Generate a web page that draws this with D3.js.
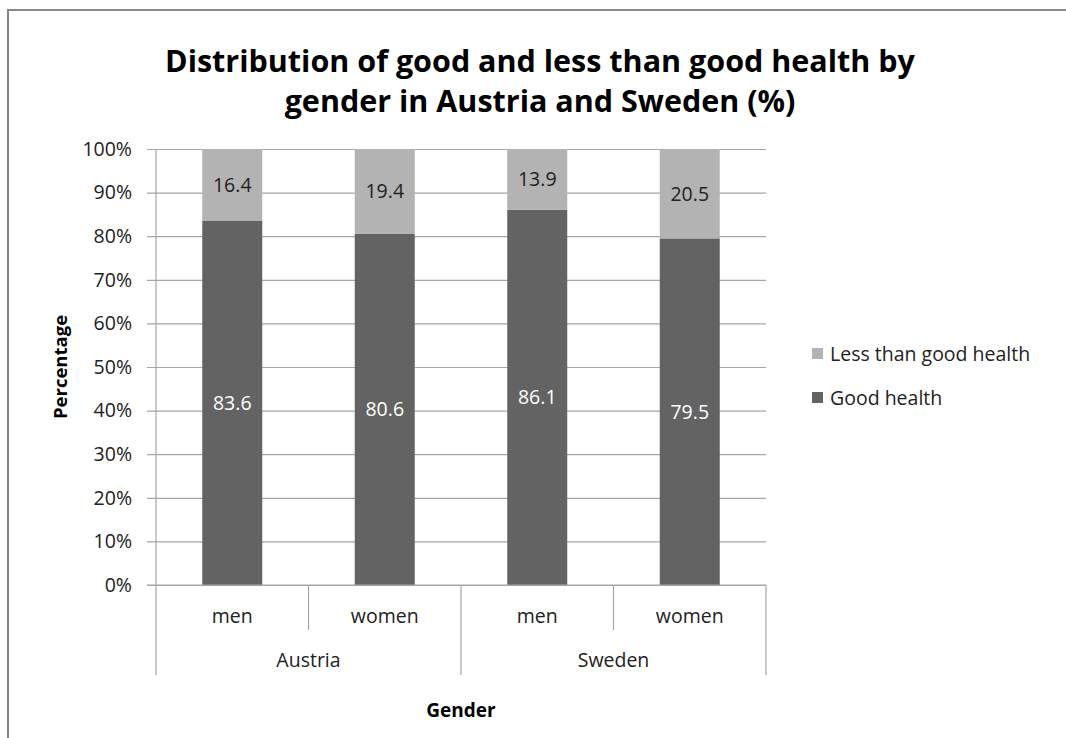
<!DOCTYPE html>
<html>
<head>
<meta charset="utf-8">
<script src="https://cdn.jsdelivr.net/npm/d3@7"></script>
<style>
  html, body { margin: 0; padding: 0; background: #fff; }
  svg { display: block; font-family: "Open Sans", "Noto Sans", sans-serif; }
</style>
</head>
<body>
<svg id="chart" width="1066" height="738"></svg>
<script>
// Categories (country / gender) and the two stacked series, in percent
const countries = ["Austria", "Sweden"];
const genders = ["men", "women"];
const categories = ["Austria|men", "Austria|women", "Sweden|men", "Sweden|women"];
const goodHealth = [83.6, 80.6, 86.1, 79.5];
const lessThanGood = [16.4, 19.4, 13.9, 20.5];
const yTicks = [0, 10, 20, 30, 40, 50, 60, 70, 80, 90, 100];
const seriesNames = ["Less than good health", "Good health"];

const svg = d3.select("#chart");

const plot = { left: 156, right: 766, top: 149, bottom: 585 };
const colors = { good: "#636363", less: "#b3b3b3", grid: "#a6a6a6" };
const labelSize = 19.5;

// Chart border (top and left edges visible)
svg.append("path")
  .attr("d", "M8,738 L8,10 L1066,10")
  .attr("fill", "none")
  .attr("stroke", "#888")
  .attr("stroke-width", 2);

// Title
const title = svg.append("text")
  .attr("text-anchor", "middle")
  .attr("font-weight", "bold")
  .attr("font-size", 30.5)
  .attr("fill", "#000");
title.append("tspan").attr("x", 540).attr("y", 72).text("Distribution of good and less than good health by");
title.append("tspan").attr("x", 540).attr("y", 112).text("gender in Austria and Sweden (%)");

const x = d3.scaleBand().domain(categories).range([plot.left, plot.right]).paddingInner(0).paddingOuter(0);
const y = d3.scaleLinear().domain([0, 100]).range([plot.bottom, plot.top]);

// Gridlines and y axis
const yAxis = d3.axisLeft(y)
  .tickValues(yTicks)
  .tickSize(-(plot.right - plot.left))
  .tickFormat(d => d + "%");
const yg = svg.append("g")
  .attr("transform", `translate(${plot.left},0)`)
  .call(yAxis);
yg.select(".domain").remove();
yg.selectAll(".tick line")
  .attr("x1", -9)
  .attr("stroke", colors.grid)
  .attr("stroke-width", 1.2);
yg.selectAll(".tick text")
  .attr("x", -24)
  .attr("font-size", labelSize)
  .attr("fill", "#222")
  .attr("font-family", "'Open Sans', sans-serif");

// Vertical axis line
svg.append("line")
  .attr("x1", plot.left).attr("x2", plot.left)
  .attr("y1", plot.top).attr("y2", plot.bottom)
  .attr("stroke", colors.grid).attr("stroke-width", 1.2);

// Stacked bars
const rows = categories.map((c, i) => ({ cat: c, good: goodHealth[i], less: lessThanGood[i] }));
const stack = d3.stack().keys(["good", "less"]);
const layers = stack(rows);
const barWidth = 60;
const fillFor = { good: colors.good, less: colors.less };
const textFor = { good: "#fff", less: "#222" };

layers.forEach(layer => {
  const g = svg.append("g");
  g.selectAll("rect")
    .data(layer)
    .join("rect")
    .attr("x", d => x(d.data.cat) + (x.bandwidth() - barWidth) / 2)
    .attr("width", barWidth)
    .attr("y", d => y(d[1]))
    .attr("height", d => y(d[0]) - y(d[1]))
    .attr("fill", fillFor[layer.key]);
  g.selectAll("text")
    .data(layer)
    .join("text")
    .attr("x", d => x(d.data.cat) + x.bandwidth() / 2)
    .attr("y", d => (y(d[0]) + y(d[1])) / 2)
    .attr("dy", "0.35em")
    .attr("text-anchor", "middle")
    .attr("font-size", labelSize)
    .attr("fill", textFor[layer.key])
    .text(d => d.data[layer.key].toFixed(1));
});

// Category axis: baseline, inner dividers, group dividers
svg.append("line")
  .attr("x1", plot.left - 9).attr("x2", plot.right)
  .attr("y1", plot.bottom).attr("y2", plot.bottom)
  .attr("stroke", colors.grid).attr("stroke-width", 1.2);

categories.forEach((c, i) => {
  const [country, gender] = c.split("|");
  const isGroupStart = genders.indexOf(gender) === 0;
  svg.append("line")
    .attr("x1", x(c)).attr("x2", x(c))
    .attr("y1", plot.bottom).attr("y2", isGroupStart ? 675 : 630)
    .attr("stroke", colors.grid).attr("stroke-width", 1.2);
  svg.append("text")
    .attr("x", x(c) + x.bandwidth() / 2)
    .attr("y", 616)
    .attr("dy", "0.35em")
    .attr("text-anchor", "middle")
    .attr("font-size", labelSize)
    .attr("fill", "#222")
    .text(gender);
});
svg.append("line")
  .attr("x1", plot.right).attr("x2", plot.right)
  .attr("y1", plot.bottom).attr("y2", 675)
  .attr("stroke", colors.grid).attr("stroke-width", 1.2);

countries.forEach(country => {
  const members = categories.filter(c => c.startsWith(country + "|"));
  const x0 = x(members[0]);
  const x1 = x(members[members.length - 1]) + x.bandwidth();
  svg.append("text")
    .attr("x", (x0 + x1) / 2)
    .attr("y", 660)
    .attr("dy", "0.35em")
    .attr("text-anchor", "middle")
    .attr("font-size", labelSize)
    .attr("fill", "#222")
    .text(country);
});

// Axis titles
svg.append("text")
  .attr("x", (plot.left + plot.right) / 2)
  .attr("y", 710)
  .attr("dy", "0.35em")
  .attr("text-anchor", "middle")
  .attr("font-weight", "bold")
  .attr("font-size", 19)
  .attr("fill", "#000")
  .text("Gender");

svg.append("text")
  .attr("transform", `translate(61,${(plot.top + plot.bottom) / 2}) rotate(-90)`)
  .attr("dy", "0.35em")
  .attr("text-anchor", "middle")
  .attr("font-weight", "bold")
  .attr("font-size", 18.5)
  .attr("fill", "#000")
  .text("Percentage");

// Legend
const legendColors = [colors.less, colors.good];
const legend = svg.append("g");
seriesNames.forEach((name, i) => {
  const ly = 354 + i * 44;
  legend.append("rect")
    .attr("x", 812).attr("y", ly - 6)
    .attr("width", 11).attr("height", 11)
    .attr("fill", legendColors[i]);
  legend.append("text")
    .attr("x", 830).attr("y", ly)
    .attr("dy", "0.35em")
    .attr("font-size", labelSize)
    .attr("fill", "#222")
    .text(name);
});
</script>
</body>
</html>
